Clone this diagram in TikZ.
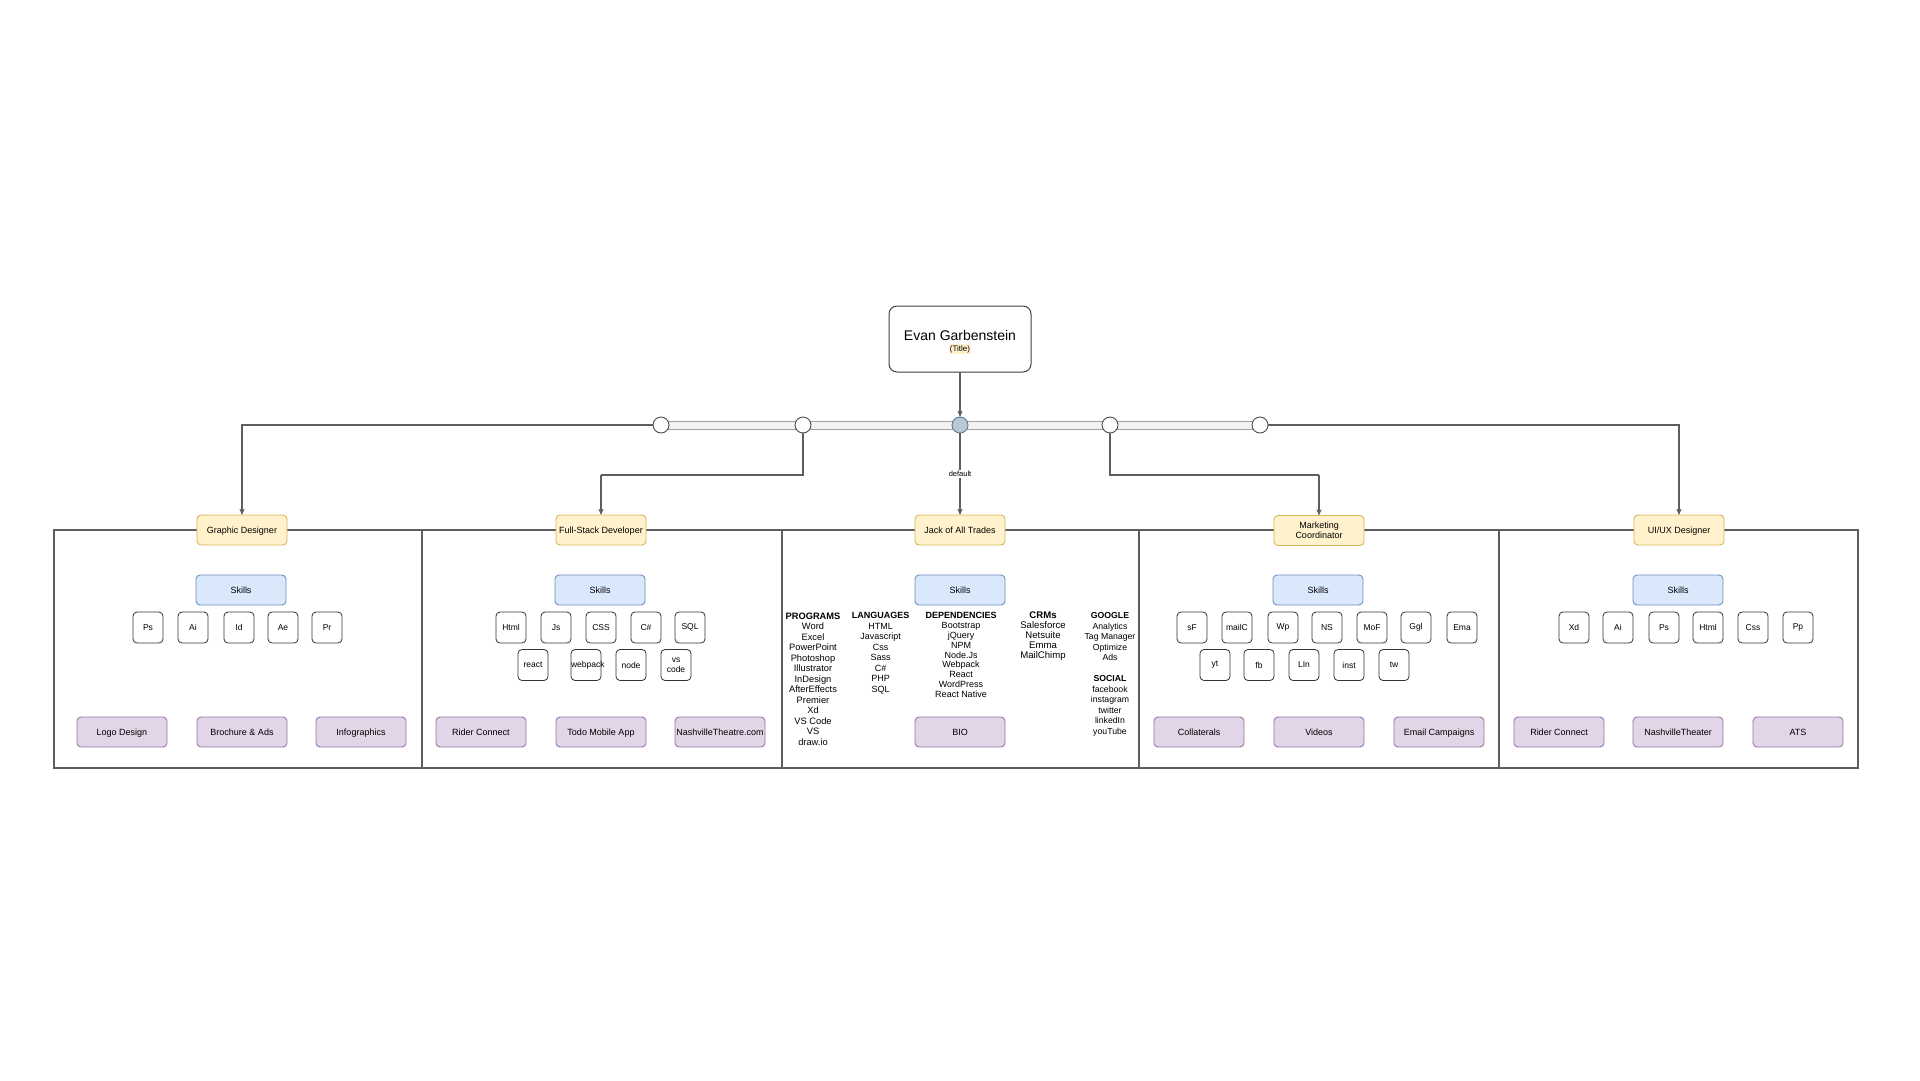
\documentclass[tikz,border=0pt]{standalone}
\usepackage{fontspec}
\setmainfont{Liberation Sans}
\usetikzlibrary{arrows.meta,calc}

\definecolor{roleFill}{HTML}{FFF2CC}
\definecolor{roleLine}{HTML}{D6B656}
\definecolor{skillFill}{HTML}{DAE8FC}
\definecolor{skillLine}{HTML}{6C8EBF}
\definecolor{projFill}{HTML}{E1D5E7}
\definecolor{projLine}{HTML}{9673A6}
\definecolor{hubFill}{HTML}{BAC8D3}
\definecolor{hubLine}{HTML}{5B7A96}
\definecolor{wire}{HTML}{5E5E5E}
\definecolor{busFill}{HTML}{F2F2F2}
\definecolor{busLine}{HTML}{A0A0A0}

\newcommand\fsz[2]{\fontsize{#1}{#2}\selectfont}

\begin{document}
\begin{tikzpicture}[x=1pt,y=-1pt,
  every node/.style={inner sep=0pt, outer sep=0pt},
  box/.style={rounded corners=4pt, minimum width=90pt, minimum height=30pt,
    line width=0.9pt, font=\fsz{9}{10.5}, align=center},
  oneline/.style={text height=7pt, text depth=0.5pt},
  role/.style={box, oneline, fill=roleFill, draw=roleLine},
  rolewide/.style={box, fill=roleFill, draw=roleLine},
  skills/.style={box, oneline, fill=skillFill, draw=skillLine},
  proj/.style={box, oneline, fill=projFill, draw=projLine},
  icon/.style={draw=black!80, fill=white, rounded corners=4pt, line width=0.8pt,
    minimum width=30pt, minimum height=31pt, text width=30pt, align=center,
    font=\fsz{8.5}{9.5}},
  panel/.style={draw=wire, line width=1.1pt, minimum height=238pt},
  conn/.style={draw=wire, line width=1.05pt},
  arr/.style={conn, -{Stealth[length=6pt,width=5pt,inset=1pt]}},
  joint/.style={circle, draw=black!70, fill=white, line width=0.9pt, minimum size=16pt},
  hub/.style={circle, draw=hubLine, fill=hubFill, line width=0.9pt, minimum size=16pt},
  lbl/.style={fill=white, font=\fsz{7.5}{8}, inner sep=1.5pt},
  col/.style={anchor=north, align=center},
]
\useasboundingbox (0,0) rectangle (1920,1080);

% ---------- panels ----------
\node[panel, minimum width=368pt] (p1) at (238,649) {};
\node[panel, minimum width=360pt] (p2) at (602,649) {};
\node[panel, minimum width=357pt] (p3) at (960.5,649) {};
\node[panel, minimum width=360pt] (p4) at (1319,649) {};
\node[panel, minimum width=359pt] (p5) at (1678.5,649) {};

% ---------- role headers ----------
\node[role] (r1) at (242,530) {Graphic Designer};
\node[role] (r2) at (601,530) {Full-Stack Developer};
\node[role] (r3) at (960,530) {Jack of All Trades};
\node[rolewide] (r4) at (1319,530.5) {Marketing\\Coordinator};
\node[role] (r5) at (1679,530) {UI/UX Designer};

% ---------- title ----------
\node[draw=black!75, fill=white, rounded corners=8pt, line width=1pt,
      minimum width=142pt, minimum height=66pt] (title) at (960,339) {};
\node[anchor=base, font=\fsz{14}{16}] (name) at (960,340) {Evan Garbenstein};
\node[anchor=base, fill=roleFill, inner sep=1pt, font=\fsz{8}{9}] (jobtitle) at (960,351) {(Title)};

% ---------- switch bus ----------
\node[draw=busLine, fill=busFill, line width=0.8pt, minimum width=599pt, minimum height=8pt] (bus) at (960.5,425) {};
\node[joint] (c1) at (661,425) {};
\node[joint] (c2) at (803,425) {};
\node[hub]   (c3) at (960,425) {};
\node[joint] (c4) at (1110,425) {};
\node[joint] (c5) at (1260,425) {};

\coordinate (k2) at (601,475);
\coordinate (k4) at (1319,475);

\draw[arr] (title.south) -- (c3.north);
\draw[arr] (c1.west) -| (r1.north);
\draw[conn] (c2.south) |- (k2);
\draw[arr] (k2) -- (r2.north);
\draw[arr] (c3.south) -- node[lbl] (deflbl) {default} (r3.north);
\draw[conn] (c4.south) |- (k4);
\draw[arr] (k4) -- (r4.north);
\draw[arr] (c5.east) -| (r5.north);

% ---------- skills headers ----------
\node[skills] (s1) at (241,590) {Skills};
\node[skills] (s2) at (600,590) {Skills};
\node[skills] (s3) at (960,590) {Skills};
\node[skills] (s4) at (1318,590) {Skills};
\node[skills] (s5) at (1678,590) {Skills};

% ---------- Graphic Designer ----------
\foreach \x/\t [count=\i] in {148/Ps,193/Ai,239/Id,283/Ae,327/Pr}
  \node[icon] (g\i) at (\x,627.5) {\t};
\node[proj] (gp1) at (122,732) {Logo Design};
\node[proj] (gp2) at (242,732) {Brochure \& Ads};
\node[proj] (gp3) at (361,732) {Infographics};

% ---------- Full-Stack Developer ----------
\foreach \x/\t [count=\i] in {511/Html,556/Js,601/CSS,646/C\#,690/SQL}
  \node[icon] (f\i) at (\x,627.5) {\t};
\node[icon] (fb1) at (533,665) {react};
\node[icon] (fb2) at (586,665) {webpack};
\node[icon] (fb3) at (631,665) {node};
\node[icon] (fb4) at (676,665) {vs\\code};
\node[proj] (fp1) at (481,732) {Rider Connect};
\node[proj] (fp2) at (601,732) {Todo Mobile App};
\node[proj] (fp3) at (720,732) {NashvilleTheatre.com};

% ---------- Jack of All Trades ----------
\node[col, font=\fsz{9.3}{10.5}] (programs) at (813,612.6)
  {\textbf{PROGRAMS}\\Word\\Excel\\PowerPoint\\Photoshop\\Illustrator\\InDesign\\AfterEffects\\Premier\\Xd\\VS Code\\VS\\draw.io};
\node[col, font=\fsz{9}{10.5}] (languages) at (880.5,612.6)
  {\textbf{LANGUAGES}\\HTML\\Javascript\\Css\\Sass\\C\#\\PHP\\SQL};
\node[col, font=\fsz{9}{9.8}] (deps) at (961,612.6)
  {\textbf{DEPENDENCIES}\\Bootstrap\\jQuery\\NPM\\Node.Js\\Webpack\\React\\WordPress\\React Native};
\node[col, font=\fsz{9.6}{9.8}] (crms) at (1043,612.2)
  {\textbf{CRMs}\\Salesforce\\Netsuite\\Emma\\MailChimp};
\node[col, font=\fsz{8.7}{10.4}] (google) at (1110,612.8)
  {\textbf{GOOGLE}\\Analytics\\Tag Manager\\Optimize\\Ads};
\node[col, font=\fsz{8.7}{10.5}] (social) at (1110,675.8)
  {\textbf{SOCIAL}\\facebook\\instagram\\twitter\\linkedIn\\youTube};
\node[proj] (jp1) at (960,732) {BIO};

% ---------- Marketing Coordinator ----------
\foreach \x/\t [count=\i] in {1192/sF,1237/mailC,1283/Wp,1327/NS,1372/MoF,1416/Ggl,1462/Ema}
  \node[icon] (m\i) at (\x,627.5) {\t};
\foreach \x/\t [count=\i] in {1215/yt,1259/fb,1304/LIn,1349/inst,1394/tw}
  \node[icon] (mb\i) at (\x,665) {\t};
\node[proj] (mp1) at (1199,732) {Collaterals};
\node[proj] (mp2) at (1319,732) {Videos};
\node[proj] (mp3) at (1439,732) {Email Campaigns};

% ---------- UI/UX Designer ----------
\foreach \x/\t [count=\i] in {1574/Xd,1618/Ai,1664/Ps,1708/Html,1753/Css,1798/Pp}
  \node[icon] (u\i) at (\x,627.5) {\t};
\node[proj] (up1) at (1559,732) {Rider Connect};
\node[proj] (up2) at (1678,732) {NashvilleTheater};
\node[proj] (up3) at (1798,732) {ATS};

\end{tikzpicture}
\end{document}
